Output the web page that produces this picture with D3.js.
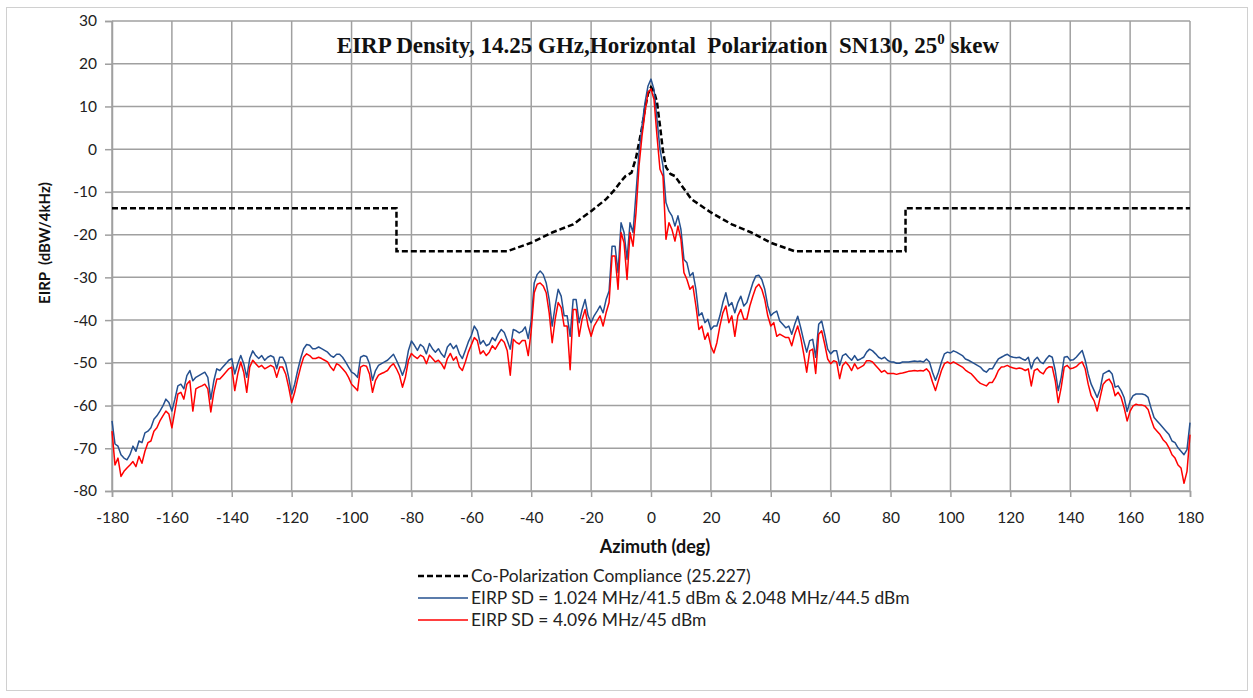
<!DOCTYPE html>
<html>
<head>
<meta charset="utf-8">
<script src="https://cdn.jsdelivr.net/npm/d3@7"></script>
<style>
  body { margin: 0; background: #fff; }
  svg { display: block; }
  .tick text { font-family: Lato, "Open Sans", sans-serif; font-size: 15.5px; fill: #222; }
  .axis-title { font-family: Lato, "Open Sans", sans-serif; font-weight: bold; fill: #111; }
  .chart-title { font-family: "Liberation Serif", "DejaVu Serif", serif; font-size: 23px; font-weight: bold; fill: #111; }
  .legend-label { font-family: Lato, "Open Sans", sans-serif; font-size: 17.4px; fill: #222; }
</style>
</head>
<body>
<div id="chart"></div>
<script>
// azimuth sample grid, 1 degree steps
const azimuth = d3.range(-180, 181, 1);

const xTicks = [-180, -160, -140, -120, -100, -80, -60, -40, -20, 0, 20, 40, 60, 80, 100, 120, 140, 160, 180];
const yTicks = [-80, -70, -60, -50, -40, -30, -20, -10, 0, 10, 20, 30];

// Co-polarization compliance mask
const maskAz = [-180, -85, -85, -48, -40, -33, -26, -20, -15, -12,
  -10, -8.5, -6.5, -5, -4, -3, -2, -1, 0, 1,
  2, 3, 4, 5, 6.5, 8, 10, 13.5, 20, 27,
  33.5, 40, 48, 85, 85, 180];
const maskVal = [-13.8, -13.8, -23.9, -23.9, -21.9, -19.5, -17.6, -14.5, -11.7, -9.4,
  -7.5, -6.3, -5.5, -2, 1.5, 5, 9.5, 13, 14.5, 13.5,
  11, 5.5, -0.5, -4.2, -5.8, -6.3, -8.3, -11.7, -14.8, -17.6,
  -19.5, -21.9, -23.9, -23.9, -13.8, -13.8];

// EIRP SD = 1.024 MHz/41.5 dBm & 2.048 MHz/44.5 dBm
const eirpBlue = [
  -63.6, -69, -69.5, -71.5, -72.3, -72.7, -71.5, -69.5, -70.7, -68.3,
  -68.7, -66.4, -66, -65.2, -63.2, -62.4, -61.3, -60.1, -58.5, -59.3,
  -61.3, -58.5, -55.4, -55, -56.1, -53, -51.8, -54.2, -53.4, -53,
  -52.6, -52.2, -53.4, -58.5, -54.2, -51.4, -51.8, -51, -50.2, -49.4,
  -49, -52.6, -50.2, -48.3, -50.2, -53.4, -49, -47.2, -48.3, -49,
  -48.3, -49.4, -48.7, -48.3, -48.7, -51.4, -48.7, -48.7, -50.2, -53.4,
  -57.3, -55, -51.8, -49, -46.7, -45.7, -45.9, -46.7, -46.7, -46.3,
  -46.7, -47.1, -47.5, -48.3, -48.7, -48, -48, -48.7, -49.8, -51,
  -52.2, -52.6, -53.4, -48.7, -48.3, -48.5, -50.2, -54.1, -51.8, -50.6,
  -50.2, -49.8, -49.4, -48.7, -48, -49.4, -51, -52.9, -51, -47.1,
  -44.9, -45.9, -47.1, -45.7, -46.3, -47.9, -45.5, -46.7, -47.5, -46.7,
  -47.9, -48.7, -46.3, -45.5, -46.7, -45.9, -47.9, -49, -47.1, -45.1,
  -43.6, -41.4, -42.5, -45.6, -44.8, -46, -45.6, -44.1, -44.8, -43.3,
  -42.2, -42.9, -44.8, -46.8, -42.2, -42.5, -43, -42.6, -41.6, -44.3,
  -40.2, -31.3, -29.3, -28.5, -29.3, -31.3, -35.2, -41.4, -36.7, -32.8,
  -34.4, -39, -39, -43.8, -35.2, -35.2, -40.6, -37.5, -35.2, -39,
  -40.6, -39, -37.9, -36.7, -38.3, -35.2, -33.2, -22.7, -22.7, -28.9,
  -17.2, -19.5, -25.8, -17.2, -19.5, -10.2, -0.8, 5.5, 10.9, 14.8,
  16.4, 14, 7, 0, -3.9, -12.5, -14.5, -15.6, -18, -15.6,
  -18.8, -25.8, -26.6, -29.7, -28.9, -32.8, -39, -38.3, -40.6, -39.8,
  -42.2, -41.4, -41.4, -39, -35.9, -33.6, -36.7, -35.9, -38.3, -35.9,
  -34.4, -36.7, -35.9, -33.6, -31.3, -29.7, -29.5, -30.5, -32.8, -36.7,
  -39, -38.3, -37.9, -40.2, -41, -41.8, -41.4, -43.3, -41, -39.1,
  -41.8, -44.8, -47.5, -44.8, -44.5, -48.7, -41, -40.2, -43.3, -46.8,
  -47.9, -47.2, -47.2, -50.6, -48.3, -47.9, -48.7, -49.4, -48.3, -49.4,
  -49.1, -48.7, -47.5, -46.8, -47.2, -47.9, -48.7, -49.1, -48.7, -49.4,
  -49.8, -49.8, -50.1, -50.1, -49.8, -49.8, -49.8, -49.7, -49.6, -49.7,
  -49.6, -49.8, -49.1, -49.8, -52.2, -54.1, -52.2, -49.8, -47.9, -47.5,
  -47.7, -47.2, -47.5, -47.9, -48.3, -49.1, -49.4, -49.8, -50.2, -50.6,
  -51, -51.8, -52.2, -51.4, -51.4, -50.2, -49.1, -48.7, -48.3, -48,
  -48.5, -48.7, -48.8, -48.7, -49.1, -49.4, -48.7, -51.4, -49.4, -48.7,
  -49.8, -50.2, -49.1, -48.3, -48.7, -51.8, -56.5, -53.4, -48.7, -48.5,
  -49.4, -49.3, -48.7, -47.9, -47.1, -49.4, -52.6, -55, -56.5, -58.1,
  -56.1, -52.6, -52.2, -51.8, -52.6, -55.7, -55.4, -56.5, -58.1, -61.4,
  -58.9, -57.7, -57.3, -57.3, -57.3, -57.5, -58.1, -60.6, -62.8, -63.6,
  -64.4, -65.2, -66, -66.8, -68.3, -68.7, -69.9, -70.7, -71.5, -70.3,
  -64
];

// EIRP SD = 4.096 MHz/45 dBm
const eirpRed = [
  -66, -73.9, -72.3, -76.6, -75.4, -74.6, -73.9, -73.1, -74.3, -71.9,
  -73.5, -70.7, -68.7, -68.3, -66, -65.2, -63.6, -62.4, -61.3, -62,
  -65.2, -61.3, -57.3, -56.9, -58.5, -55, -54.2, -61.3, -56.1, -55.7,
  -55.4, -55, -56.1, -61.5, -56.9, -53.8, -53.8, -53, -52.2, -51.4,
  -51, -56.5, -52.6, -49.8, -52.2, -56.9, -51, -49.4, -50.2, -51,
  -50.6, -51.4, -51, -50.6, -51, -53.4, -51, -51, -52.6, -55.7,
  -59.3, -56.9, -53.8, -51, -48.7, -47.9, -48.3, -49, -49, -48.7,
  -49, -49.4, -49.8, -51, -51.8, -50.2, -50.6, -51.4, -52.2, -53.4,
  -55, -55.7, -56.5, -51, -50.6, -50.8, -52.6, -56.9, -54.1, -52.9,
  -52.5, -52.2, -51.8, -50.8, -50.2, -51.4, -52.9, -55.7, -53.3, -49.4,
  -47.8, -48.5, -49, -48.2, -48.6, -50.2, -48.2, -49, -49.8, -49.4,
  -50.2, -51.4, -49, -47.8, -49.4, -48.6, -51, -51.8, -49.8, -47.5,
  -45.8, -44.1, -44.8, -47.9, -47.2, -48.3, -47.5, -46, -46.8, -45.6,
  -44.5, -45.2, -47.2, -52.9, -44.5, -45.2, -45.6, -44.8, -44.8, -48.3,
  -42.5, -33.6, -31.6, -31.3, -32, -33.6, -38.3, -45.3, -39.8, -35.9,
  -37.1, -41.4, -41.4, -51.6, -37.5, -37.5, -43.8, -39.8, -37.5, -41.4,
  -43.8, -41.4, -40.2, -39, -41.4, -38.3, -35.9, -25, -25, -32.8,
  -19.5, -21.9, -30.5, -19.5, -22.7, -14.8, -3.9, 3.1, 8.6, 13.3,
  14.1, 11.7, 3.1, -4.7, -6.3, -21.1, -17.2, -18.8, -21.5, -18,
  -21.1, -28.9, -30.5, -32.8, -32, -36.7, -42.2, -41.4, -44.5, -43,
  -46.1, -47.7, -45.3, -41.4, -38.3, -36.7, -40.6, -39, -43.8, -39,
  -37.5, -39.8, -39.8, -36.7, -34.4, -32.4, -31.6, -32.8, -35.2, -39,
  -41.4, -40.6, -43.8, -43.3, -43.7, -44.1, -44.1, -46, -43.3, -41.4,
  -44.1, -47.9, -52.2, -47.2, -46.8, -52.5, -43.3, -42.5, -45.6, -49.1,
  -50.2, -49.5, -49.8, -53.7, -50.6, -49.8, -50.6, -51.8, -50.2, -51.4,
  -51, -50.6, -49.5, -49.5, -49.8, -50.6, -51.4, -52.2, -51.8, -52.5,
  -52.5, -52.5, -52.7, -52.5, -52.4, -52.2, -52, -51.9, -51.8, -51.9,
  -51.8, -51.9, -51.4, -52.2, -54.5, -56.5, -54.1, -51.8, -50.2, -49.8,
  -50.2, -49.8, -50.2, -50.6, -51, -51.7, -52.2, -52.6, -53.4, -54.2,
  -54.8, -55.1, -55.4, -54.6, -54.6, -53.4, -51.8, -51, -50.9, -50.6,
  -51, -51.2, -51.4, -51.2, -51.4, -51.8, -51.4, -55.4, -51.8, -51.4,
  -52.2, -52.6, -51.4, -50.9, -51, -54.2, -59.3, -55.7, -51, -50.6,
  -51.4, -51.2, -50.9, -50.2, -49.8, -51.4, -55, -57.7, -58.9, -61.3,
  -58.1, -55, -54.2, -53.8, -55, -57.7, -56.9, -58.1, -60.5, -63.6,
  -61.3, -60.1, -59.7, -59.9, -59.9, -60.1, -60.9, -63.2, -65.2, -66,
  -66.8, -68, -68.7, -69.9, -71.5, -72.3, -73.9, -74.6, -78.2, -75.4,
  -66.8
];

const legendLabels = [
  "Co-Polarization Compliance (25.227)",
  "EIRP SD = 1.024 MHz/41.5 dBm & 2.048 MHz/44.5 dBm",
  "EIRP SD = 4.096 MHz/45 dBm"
];

const width = 1253;
const height = 698;
const plot = { left: 112, right: 1190, top: 21, bottom: 491 };

const svg = d3.select("#chart")
  .append("svg")
  .attr("width", width)
  .attr("height", height);

// outer chart frame
svg.append("rect")
  .attr("x", 6.5).attr("y", 7.5)
  .attr("width", 1241).attr("height", 683)
  .attr("fill", "#fff")
  .attr("stroke", "#d0d0d0")
  .attr("stroke-width", 1);

const x = d3.scaleLinear().domain([-180, 180]).range([plot.left, plot.right]);
const y = d3.scaleLinear().domain([-80, 30]).range([plot.bottom, plot.top]);

// gridlines
const grid = svg.append("g").attr("stroke", "#a0a0a0").attr("stroke-width", 1.5);
grid.selectAll(".vg").data(xTicks).enter().append("line")
  .attr("x1", d => x(d)).attr("x2", d => x(d))
  .attr("y1", plot.top).attr("y2", plot.bottom);
grid.selectAll(".hg").data(yTicks).enter().append("line")
  .attr("x1", plot.left).attr("x2", plot.right)
  .attr("y1", d => y(d)).attr("y2", d => y(d));

// axes
const yAxis = svg.append("g")
  .attr("transform", `translate(${plot.left},0)`)
  .call(d3.axisLeft(y).tickValues(yTicks).tickSize(7).tickPadding(8).tickFormat(d3.format("d")));
const xAxis = svg.append("g")
  .attr("transform", `translate(0,${plot.bottom})`)
  .call(d3.axisBottom(x).tickValues(xTicks).tickSize(6).tickPadding(15).tickFormat(d3.format("d")));
[xAxis, yAxis].forEach(a => {
  a.select(".domain").attr("stroke", "#a0a0a0").attr("stroke-width", 1.5);
  a.selectAll(".tick line").attr("stroke", "#a0a0a0").attr("stroke-width", 1.5);
});
// plain hyphen minus like the original
svg.selectAll(".tick text").text(function () { return d3.select(this).text().replace("\u2212", "-"); });

// lines
const maskLine = d3.line().x((d, i) => x(maskAz[i])).y(d => y(d));
const trace = d3.line().x((d, i) => x(azimuth[i])).y(d => y(d));

svg.append("path")
  .datum(maskVal)
  .attr("d", maskLine)
  .attr("fill", "none")
  .attr("stroke", "#000")
  .attr("stroke-width", 2.5)
  .attr("stroke-dasharray", "6,3");

svg.append("path")
  .datum(eirpBlue)
  .attr("d", trace)
  .attr("fill", "none")
  .attr("stroke", "#25508f")
  .attr("stroke-width", 1.5)
  .attr("stroke-linejoin", "round");

svg.append("path")
  .datum(eirpRed)
  .attr("d", trace)
  .attr("fill", "none")
  .attr("stroke", "#ff0000")
  .attr("stroke-width", 1.5)
  .attr("stroke-linejoin", "round");

// title
const title = svg.append("text")
  .attr("class", "chart-title")
  .attr("x", 668)
  .attr("y", 53)
  .attr("text-anchor", "middle")
  .attr("xml:space", "preserve");
title.append("tspan").text("EIRP Density, 14.25 GHz,Horizontal  Polarization  SN130, 25");
title.append("tspan").attr("dy", -9).attr("font-size", 15).text("0");
title.append("tspan").attr("dy", 9).text(" skew");

// axis titles
svg.append("text")
  .attr("class", "axis-title")
  .attr("font-size", 15)
  .attr("transform", "translate(50,243) rotate(-90)")
  .attr("text-anchor", "middle")
  .attr("xml:space", "preserve")
  .text("EIRP  (dBW/4kHz)");

svg.append("text")
  .attr("class", "axis-title")
  .attr("font-size", 18)
  .attr("x", 655)
  .attr("y", 553)
  .attr("text-anchor", "middle")
  .text("Azimuth (deg)");

// legend
const legendStyles = [
  { stroke: "#000", width: 2.5, dash: "6,3" },
  { stroke: "#25508f", width: 1.5, dash: null },
  { stroke: "#ff0000", width: 1.5, dash: null }
];
const legend = svg.append("g").attr("transform", "translate(418,576)");
const items = legend.selectAll(".legend-item")
  .data(legendLabels)
  .enter().append("g")
  .attr("transform", (d, i) => `translate(0,${i * 22})`);
items.append("line")
  .attr("x1", 0).attr("x2", 50)
  .attr("stroke", (d, i) => legendStyles[i].stroke)
  .attr("stroke-width", (d, i) => legendStyles[i].width)
  .attr("stroke-dasharray", (d, i) => legendStyles[i].dash);
items.append("text")
  .attr("class", "legend-label")
  .attr("x", 53)
  .attr("y", 6)
  .text(d => d);
</script>
</body>
</html>
